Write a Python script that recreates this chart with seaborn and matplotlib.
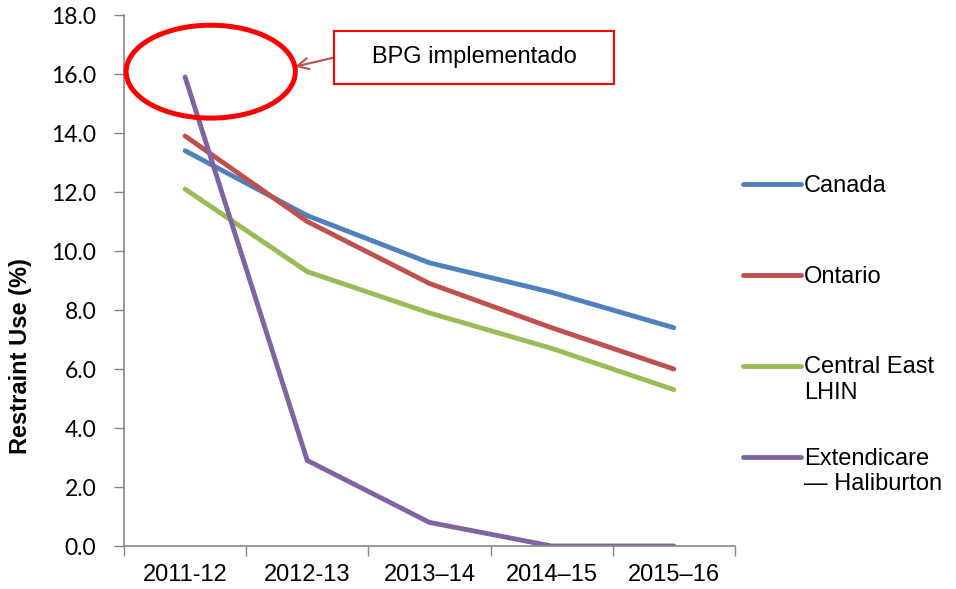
import numpy as np
import pandas as pd
import seaborn as sns
import matplotlib.pyplot as plt
from matplotlib.patches import Ellipse, Rectangle
from matplotlib.legend import Legend
from matplotlib.legend_handler import HandlerLine2D

periods = ['2011-12', '2012-13', '2013–14', '2014–15', '2015–16']
series_names = ['Canada', 'Ontario', 'Central East\nLHIN', 'Extendicare\n— Haliburton']
canada = [13.4, 11.2, 9.6, 8.6, 7.4]
ontario = [13.9, 11.0, 8.9, 7.4, 6.0]
central_east = [12.1, 9.3, 7.9, 6.7, 5.3]
extendicare = [15.9, 2.9, 0.8, 0.0, 0.0]
colors = ['#4F81BD', '#C0504D', '#9BBB59', '#8064A2']
note = 'BPG implementado'


class FirstLineHandler(HandlerLine2D):
    # put the legend line next to the first text line, like Excel does
    def __init__(self, shift=0.0, **kw):
        super().__init__(**kw)
        self.shift = shift

    def create_artists(self, legend, orig_handle, xdescent, ydescent, width, height, fontsize, trans):
        artists = super().create_artists(legend, orig_handle, xdescent, ydescent, width, height, fontsize, trans)
        for a in artists:
            a.set_ydata(np.asarray(a.get_ydata()) + self.shift * fontsize)
        return artists


rows = []
for name, vals in zip(series_names, [canada, ontario, central_east, extendicare]):
    for i, v in enumerate(vals):
        rows.append({'series': name, 'pos': i, 'value': v})
df = pd.DataFrame(rows)

sns.set_style('ticks')
plt.rcParams['font.family'] = ['Liberation Sans', 'DejaVu Sans']
plt.rcParams['text.color'] = 'black'
plt.rcParams['axes.labelcolor'] = 'black'

fig = plt.figure(figsize=(9.56, 5.89), dpi=100)
ax = fig.add_axes([0.1297, 0.0730, 0.639, 0.9015])

sns.lineplot(data=df, x='pos', y='value', hue='series', hue_order=series_names,
             palette=colors, linewidth=3.5, errorbar=None, legend=False, ax=ax)
for line in ax.lines:
    line.set_solid_capstyle('round')

ax.set_xlim(-0.5, len(periods) - 0.5)
ax.set_ylim(0, 18)
ax.set_xticks(np.arange(len(periods) + 1) - 0.5)
ax.set_xticklabels([])
ax.set_xticks(np.arange(len(periods)), minor=True)
ax.set_xticklabels(periods, minor=True, fontsize=17)
ax.tick_params(axis='x', which='major', direction='out', length=7, color='#868686', width=1)
ax.tick_params(axis='x', which='minor', length=0, pad=13, labelcolor='black')
ax.set_yticks(np.arange(0, 18.1, 2))
ax.set_yticklabels([f'{v:.1f}' for v in np.arange(0, 18.1, 2)])
ax.tick_params(axis='y', direction='out', length=7, color='#868686', width=1, pad=13,
               labelcolor='black')
for t in ax.get_yticklabels():
    t.set_fontfamily('Lato')
    t.set_fontsize(16.5)

ax.set_xlabel('')
ax.set_ylabel('Restraint Use (%)', fontsize=17, fontweight='bold')
ax.yaxis.set_label_coords(-0.151, 0.357)

sns.despine(ax=ax)
for s in ['left', 'bottom']:
    ax.spines[s].set_color('#868686')
    ax.spines[s].set_linewidth(1.2)

# legend, one block per series so the spacing matches the original
handles = ax.lines[:len(series_names)]
legend_tops = [0.6978, 0.5264, 0.3569, 0.1855]
for h, name, top in zip(handles, series_names, legend_tops):
    handler = FirstLineHandler(shift=0.6 if '\n' in name else 0.0)
    leg = Legend(ax, [h], [name], loc='upper left', bbox_to_anchor=(1.013, top),
                 frameon=False, borderpad=0, borderaxespad=0, handlelength=2.45,
                 handletextpad=0.15, fontsize=17, handler_map={h: handler})
    ax.add_artist(leg)

# annotation: ellipse around the first Extendicare point, boxed note with arrow
ax.add_patch(Ellipse((0.21, 16.08), width=1.385, height=3.15, fill=False,
                     edgecolor='#FF0000', lw=3.6, zorder=5, clip_on=False))
ax.add_patch(Rectangle((0.344, 0.870), 0.458, 0.0998, transform=ax.transAxes,
                       fill=True, facecolor='white', edgecolor='#FF0000', lw=1.5,
                       zorder=6, clip_on=False))
ax.text(0.573, 0.921, note, transform=ax.transAxes, ha='center', va='center',
        fontsize=17, zorder=7)
ax.annotate('', xy=(0.280, 0.9027), xytext=(0.3453, 0.9203),
            xycoords='axes fraction', textcoords='axes fraction',
            arrowprops=dict(arrowstyle='->,head_length=0.8,head_width=0.4',
                            color='#C0504D', lw=1.5, shrinkA=0, shrinkB=0))

fig.savefig('out.png', dpi=100)
